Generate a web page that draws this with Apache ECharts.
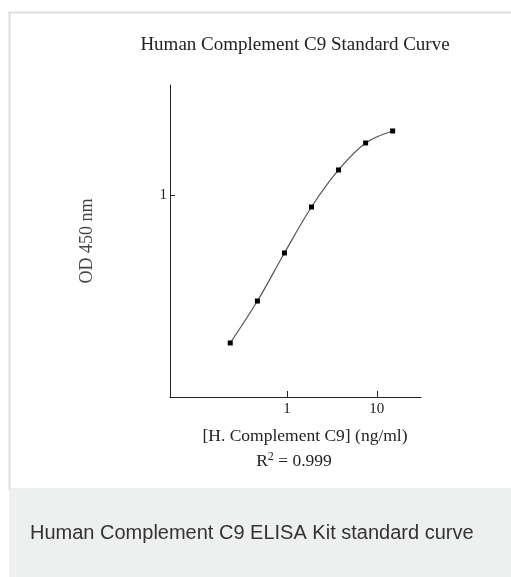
<!DOCTYPE html>
<html>
<head>
<meta charset="utf-8">
<script src="https://cdn.jsdelivr.net/npm/echarts@6/dist/echarts.min.js"></script>
<style>
html,body{margin:0;padding:0;background:#fff;}
#chart{width:511px;height:577px;}
</style>
</head>
<body>
<div id="chart"></div>
<script>
// Data
const concentrations = [0.234, 0.469, 0.938, 1.875, 3.75, 7.5, 15];
const odValues = [0.182, 0.295, 0.513, 0.871, 1.334, 1.82, 2.09];
const xTickValues = [1, 10];
const yTickValues = [1];
const titleText = 'Human Complement C9 Standard Curve';
const xAxisName = '[H. Complement C9] (ng/ml)';
const yAxisName = 'OD 450 nm';
const captionText = 'Human Complement C9 ELISA Kit standard curve';

const serif = '"Liberation Serif", "Times New Roman", serif';
const chart = echarts.init(document.getElementById('chart'));
const points = concentrations.map((c, i) => [c, odValues[i]]);

chart.setOption({
  animation: false,
  backgroundColor: '#fff',
  grid: { left: 170, top: 85, right: 90, bottom: 180, containLabel: false },
  xAxis: {
    type: 'log', logBase: 10, min: 0.05, max: 31,
    axisLine: { show: true, lineStyle: { color: '#222', width: 1 } },
    axisTick: { show: true, inside: true, length: 6, customValues: xTickValues, lineStyle: { color: '#222' } },
    axisLabel: { show: true, customValues: xTickValues, color: '#222', fontFamily: serif, fontSize: 15, margin: 5,
      formatter: v => String(Math.round(v)) },
    splitLine: { show: false }, minorTick: { show: false }
  },
  yAxis: {
    type: 'log', logBase: 10, min: 0.0977, max: 3.548,
    axisLine: { show: true, lineStyle: { color: '#222', width: 1 } },
    axisTick: { show: true, inside: true, length: 5, customValues: yTickValues, lineStyle: { color: '#222' } },
    axisLabel: { show: true, customValues: yTickValues, color: '#222', fontFamily: serif, fontSize: 15, margin: 3,
      formatter: v => String(Math.round(v)) },
    name: yAxisName, nameLocation: 'middle', nameGap: 74, nameRotate: 90,
    nameTextStyle: { color: '#444', fontFamily: serif, fontSize: 18 },
    splitLine: { show: false }
  },
  graphic: [
    { type: 'rect', z: -10, shape: { x: 9.5, y: 12.5, width: 510, height: 477 },
      style: { fill: '#fff', stroke: '#dedede', lineWidth: 2 } },
    { type: 'rect', z: -10, shape: { x: 9, y: 489, width: 502, height: 88 },
      style: { fill: '#eeefef' } },
    { type: 'text', x: 295, y: 45, style: { text: titleText, fill: '#222', font: '19px ' + serif, textAlign: 'center', textVerticalAlign: 'middle' } },
    { type: 'text', x: 305, y: 436, style: { text: xAxisName, fill: '#222', font: '17.5px ' + serif, textAlign: 'center', textVerticalAlign: 'middle' } },
    { type: 'text', x: 294, y: 461, style: {
        text: '{n|R}{s|2}{n| = 0.999}',
        textAlign: 'center', textVerticalAlign: 'middle',
        rich: {
          n: { fontFamily: serif, fontSize: 17.5, fill: '#222', color: '#222' },
          s: { fontFamily: serif, fontSize: 12, fill: '#222', color: '#222', verticalAlign: 'top', padding: [0, 0, 9, 0] }
        } } },
    { type: 'text', x: 30, y: 533, style: { text: captionText, fill: '#333', font: '20px "Liberation Sans", Arial, sans-serif', textAlign: 'left', textVerticalAlign: 'middle' } }
  ],
  series: [{
    type: 'line', data: points, smooth: 0.35,
    symbol: 'rect', symbolSize: 5, showSymbol: true,
    lineStyle: { color: '#555', width: 1.2 },
    itemStyle: { color: '#000' }
  }]
});
</script>
</body>
</html>
